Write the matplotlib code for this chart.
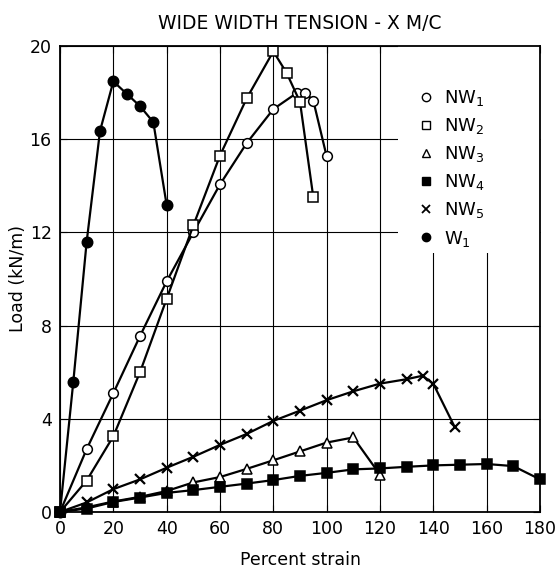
import matplotlib
matplotlib.use("Agg")
import matplotlib.pyplot as plt
from matplotlib.lines import Line2D
from matplotlib.patches import Rectangle

# ---- data ----
nw1_x = [0, 10, 20, 30, 40, 50, 60, 70, 80, 89, 92, 95, 100]
nw1_y = [0, 2.7, 5.1, 7.55, 9.9, 12.0, 14.06, 15.83, 17.29, 18.0, 18.0, 17.65, 15.26]

nw2_x = [0, 10, 20, 30, 40, 50, 60, 70, 80, 85, 90, 95]
nw2_y = [0, 1.35, 3.25, 6.0, 9.15, 12.3, 15.3, 17.75, 19.77, 18.84, 17.6, 13.5]

nw3_x = [0, 10, 20, 30, 40, 50, 60, 70, 80, 90, 100, 110, 120]
nw3_y = [0, 0.2, 0.45, 0.65, 0.9, 1.27, 1.5, 1.85, 2.22, 2.6, 2.98, 3.2, 1.6]

nw4_x = [0, 10, 20, 30, 40, 50, 60, 70, 80, 90, 100, 110, 120, 130, 140, 150, 160, 170, 180]
nw4_y = [0, 0.15, 0.43, 0.62, 0.82, 0.94, 1.08, 1.22, 1.37, 1.55, 1.68, 1.83, 1.87,
         1.94, 2.0, 2.03, 2.06, 1.97, 1.4]

nw5_x = [0, 10, 20, 30, 40, 50, 60, 70, 80, 90, 100, 110, 120, 130, 136, 140, 148]
nw5_y = [0, 0.41, 0.98, 1.4, 1.9, 2.37, 2.88, 3.35, 3.91, 4.35, 4.8, 5.18, 5.51,
         5.7, 5.85, 5.5, 3.65]

w1_x = [0, 5, 10, 15, 20, 25, 30, 35, 40]
w1_y = [0, 5.6, 11.6, 16.35, 18.48, 17.95, 17.42, 16.73, 13.17]

x_ticks = [0, 20, 40, 60, 80, 100, 120, 140, 160, 180]
y_ticks = [0, 4, 8, 12, 16, 20]

title = "WIDE WIDTH TENSION - X M/C"
x_label = "Percent strain"
y_label = "Load (kN/m)"
labels = [r"NW$_1$", r"NW$_2$", r"NW$_3$", r"NW$_4$", r"NW$_5$", r"W$_1$"]

# ---- figure ----
fig = plt.figure(figsize=(5.58, 5.77), dpi=100)
ax = fig.add_axes([60 / 558, 65 / 577, 480 / 558, 466 / 577])

lw = 1.6
ms = 7
series = [
    (nw1_x, nw1_y, dict(marker="o", mfc="white", mec="black", ms=ms, mew=1.1)),
    (nw2_x, nw2_y, dict(marker="s", mfc="white", mec="black", ms=ms - 0.5, mew=1.1)),
    (nw3_x, nw3_y, dict(marker="^", mfc="white", mec="black", ms=ms, mew=1.1)),
    (nw4_x, nw4_y, dict(marker="s", mfc="black", mec="black", ms=ms - 0.5, mew=1.1)),
    (nw5_x, nw5_y, dict(marker="x", mfc="black", mec="black", ms=ms, mew=1.6)),
    (w1_x, w1_y, dict(marker="o", mfc="black", mec="black", ms=ms + 0.5, mew=1.1)),
]
for xs, ys, st in series:
    ax.plot(xs, ys, color="black", lw=lw, clip_on=False, zorder=3, **st)

ax.set_xlim(0, 180)
ax.set_ylim(0, 20)
ax.set_xticks(x_ticks)
ax.set_yticks(y_ticks)
ax.grid(True, color="black", lw=0.8)
ax.set_axisbelow(True)
for s in ax.spines.values():
    s.set_linewidth(1.3)
    s.set_zorder(4)
ax.tick_params(direction="in", length=5, width=0.8, labelsize=12.5, pad=6,
               top=True, right=True)

# white area behind the legend that hides the grid
ax.add_patch(Rectangle((0.705, 0.555), 0.295, 0.445, transform=ax.transAxes,
                       facecolor="white", edgecolor="none", zorder=1))

ax.set_xlabel(x_label, fontsize=12.5, labelpad=9)
ax.set_ylabel(y_label, fontsize=12.5, labelpad=2)
ax.set_title(title, fontsize=13.5, pad=12)

handles = []
for xs, ys, st in series:
    st2 = dict(st)
    st2["ms"] = 6
    st2["mew"] = 1.0 if st["marker"] != "x" else 1.3
    handles.append(Line2D([], [], color="black", linestyle="none", **st2))
leg = ax.legend(handles, labels, loc="upper left", bbox_to_anchor=(0.743, 0.91),
                fontsize=13, frameon=False, handlelength=1.0,
                handletextpad=0.5, labelspacing=0.45, borderpad=0.0,
                borderaxespad=0.0)
leg.set_zorder(5)

fig.savefig("out.png", dpi=100)
